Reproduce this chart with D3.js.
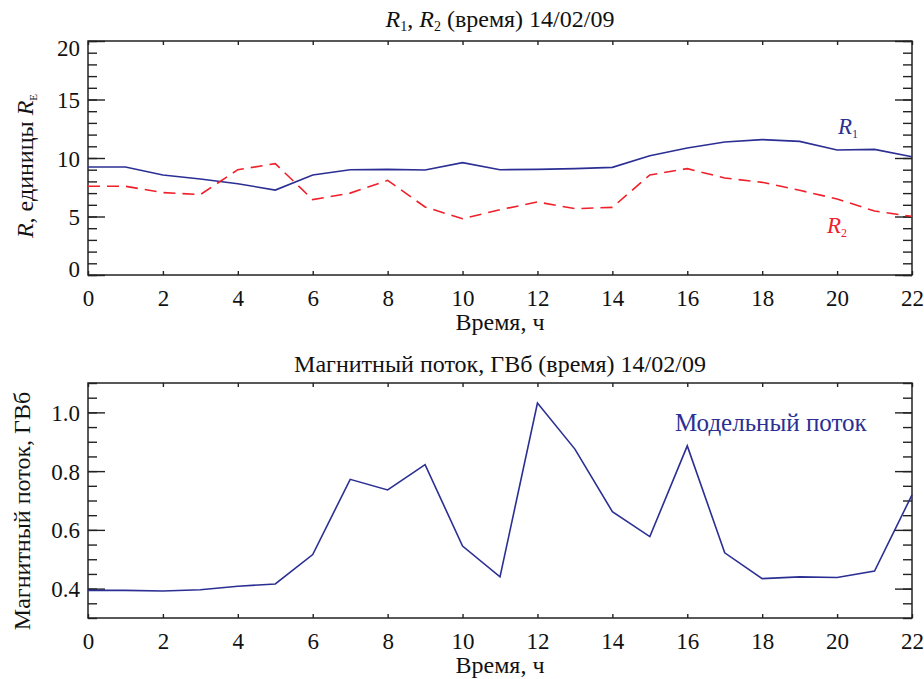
<!DOCTYPE html>
<html><head><meta charset="utf-8">
<script src="https://cdn.jsdelivr.net/npm/d3@7"></script>
</head><body style="margin:0;background:#fff"><svg id="c" width="924" height="679" style="display:block"></svg>
<script>
const hours = [0,1,2,3,4,5,6,7,8,9,10,11,12,13,14,15,16,17,18,19,20,21,22];
const r1 = [9.23,9.23,8.55,8.2,7.8,7.26,8.55,9.0,9.03,8.97,9.6,9.0,9.03,9.09,9.2,10.2,10.85,11.37,11.57,11.42,10.68,10.74,10.11];
const r2 = [7.58,7.58,7.04,6.87,9.0,9.52,6.44,7.0,8.09,5.81,4.81,5.58,6.24,5.67,5.78,8.55,9.09,8.29,7.92,7.24,6.5,5.47,5.01];
const flux = [0.394,0.394,0.392,0.396,0.408,0.416,0.516,0.772,0.736,0.822,0.545,0.44,1.032,0.875,0.662,0.577,0.886,0.522,0.434,0.44,0.438,0.46,0.719];
const xTicks = [0,2,4,6,8,10,12,14,16,18,20,22];
const rTicks = [0,5,10,15,20];
const fluxTicks = [0.4,0.6,0.8,1.0];

const fams = ["Liberation", "Serif"];
const FAM = `"${fams.join(" ")}"`;
const st = document.createElement("style");
st.textContent = `svg text, svg tspan { font-family: ${FAM}, "Times New Roman", Tinos !important; }`;
document.head.appendChild(st);

const BLUE = "#2b2f93", RED = "#f0202a", AX = "#222";
const svg = d3.select("#c");
const L = 88, R = 912;
const x = d3.scaleLinear().domain([0,22]).range([L,R]);

function txt(sel, size, color){
  return sel.style("font-family", FAM).attr("font-size", size).attr("fill", color || "#111");
}

function panel(top, bottom, yDomain, majors, minorStep, fmt, endShift){
  const y = d3.scaleLinear().domain(yDomain).range([bottom, top]);
  const g = svg.append("g");
  const minors = d3.range(yDomain[0], yDomain[1]+1e-9, minorStep).map(v=>+v.toFixed(4));
  g.append("g").attr("transform",`translate(${L},0)`).call(d3.axisLeft(y).tickValues(minors).tickSize(-9).tickFormat(""));
  g.append("g").attr("transform",`translate(${R},0)`).call(d3.axisRight(y).tickValues(minors).tickSize(-9).tickFormat(""));
  const ya = g.append("g").attr("transform",`translate(${L},0)`).call(d3.axisLeft(y).tickValues(majors).tickSize(-17).tickFormat(fmt));
  g.append("g").attr("transform",`translate(${R},0)`).call(d3.axisRight(y).tickValues(majors).tickSize(-17).tickFormat(""));
  const xa = g.append("g").attr("transform",`translate(0,${bottom})`).call(d3.axisBottom(x).tickValues(xTicks).tickSize(-4).tickFormat(d3.format("d")));
  g.append("g").attr("transform",`translate(0,${top})`).call(d3.axisTop(x).tickValues(xTicks).tickSize(-4).tickFormat(""));
  g.selectAll("g").attr("font-family", null);
  txt(ya.selectAll("text"), 23).attr("x",-8).attr("dy","0.35em")
    .attr("transform", d => endShift ? (d===yDomain[1] ? "translate(0,6)" : d===yDomain[0] ? "translate(0,-7)" : null) : null);
  txt(xa.selectAll("text"), 23).attr("y",23).attr("dy","0.35em");
  g.selectAll(".domain").remove();
  g.selectAll(".tick line").attr("stroke",AX).attr("stroke-width",1.4);
  g.append("rect").attr("x",L).attr("y",top).attr("width",R-L).attr("height",bottom-top)
    .attr("fill","none").attr("stroke",AX).attr("stroke-width",1.5);
  txt(svg.append("text"), 24).attr("x",(L+R)/2).attr("y",bottom+55).attr("text-anchor","middle").text("Время, ч");
  return y;
}

const yR = panel(41, 275, [0,20], rTicks, 1, d3.format("d"), true);
const line1 = d3.line().x((d,i)=>x(hours[i])).y(d=>yR(d));
svg.append("path").datum(r1).attr("d",line1).attr("fill","none").attr("stroke",BLUE).attr("stroke-width",1.6);
svg.append("path").datum(r2).attr("d",line1).attr("fill","none").attr("stroke",RED).attr("stroke-width",1.6).attr("stroke-dasharray","12,7");

const t1 = txt(svg.append("text"), 24).attr("x",(L+R)/2).attr("y",27).attr("text-anchor","middle");
t1.append("tspan").attr("font-style","italic").text("R");
t1.append("tspan").attr("dy",4).attr("font-size",14).text("1");
t1.append("tspan").attr("dy",-4).text(", ");
t1.append("tspan").attr("font-style","italic").text("R");
t1.append("tspan").attr("dy",4).attr("font-size",14).text("2");
t1.append("tspan").attr("dy",-4).text(" (время) 14/02/09");

const yl1 = txt(svg.append("text"), 24).attr("transform","translate(33,166) rotate(-90)").attr("text-anchor","middle");
yl1.append("tspan").attr("font-style","italic").text("R");
yl1.append("tspan").text(", единицы ");
yl1.append("tspan").attr("font-style","italic").text("R");
yl1.append("tspan").attr("dy",4).attr("font-size",11).text("E");

const lr1 = txt(svg.append("text"), 23, BLUE).attr("x",838).attr("y",134);
lr1.append("tspan").attr("font-style","italic").text("R");
lr1.append("tspan").attr("dy",4).attr("font-size",12).text("1");
const lr2 = txt(svg.append("text"), 23, RED).attr("x",827).attr("y",233);
lr2.append("tspan").attr("font-style","italic").text("R");
lr2.append("tspan").attr("dy",4).attr("font-size",12).text("2");

const yF = panel(383, 618, [0.3,1.1], fluxTicks, 0.05, d3.format(".1f"), false);
svg.append("path").datum(flux).attr("d",d3.line().x((d,i)=>x(hours[i])).y(d=>yF(d)))
  .attr("fill","none").attr("stroke",BLUE).attr("stroke-width",1.6);

txt(svg.append("text"), 24).attr("x",(L+R)/2).attr("y",372).attr("text-anchor","middle")
  .text("Магнитный поток, ГВб (время) 14/02/09");
txt(svg.append("text"), 24).attr("transform","translate(30,511) rotate(-90)").attr("text-anchor","middle")
  .text("Магнитный поток, ГВб");
txt(svg.append("text"), 25, BLUE).attr("x",675).attr("y",431).text("Модельный поток");
</script></body></html>
